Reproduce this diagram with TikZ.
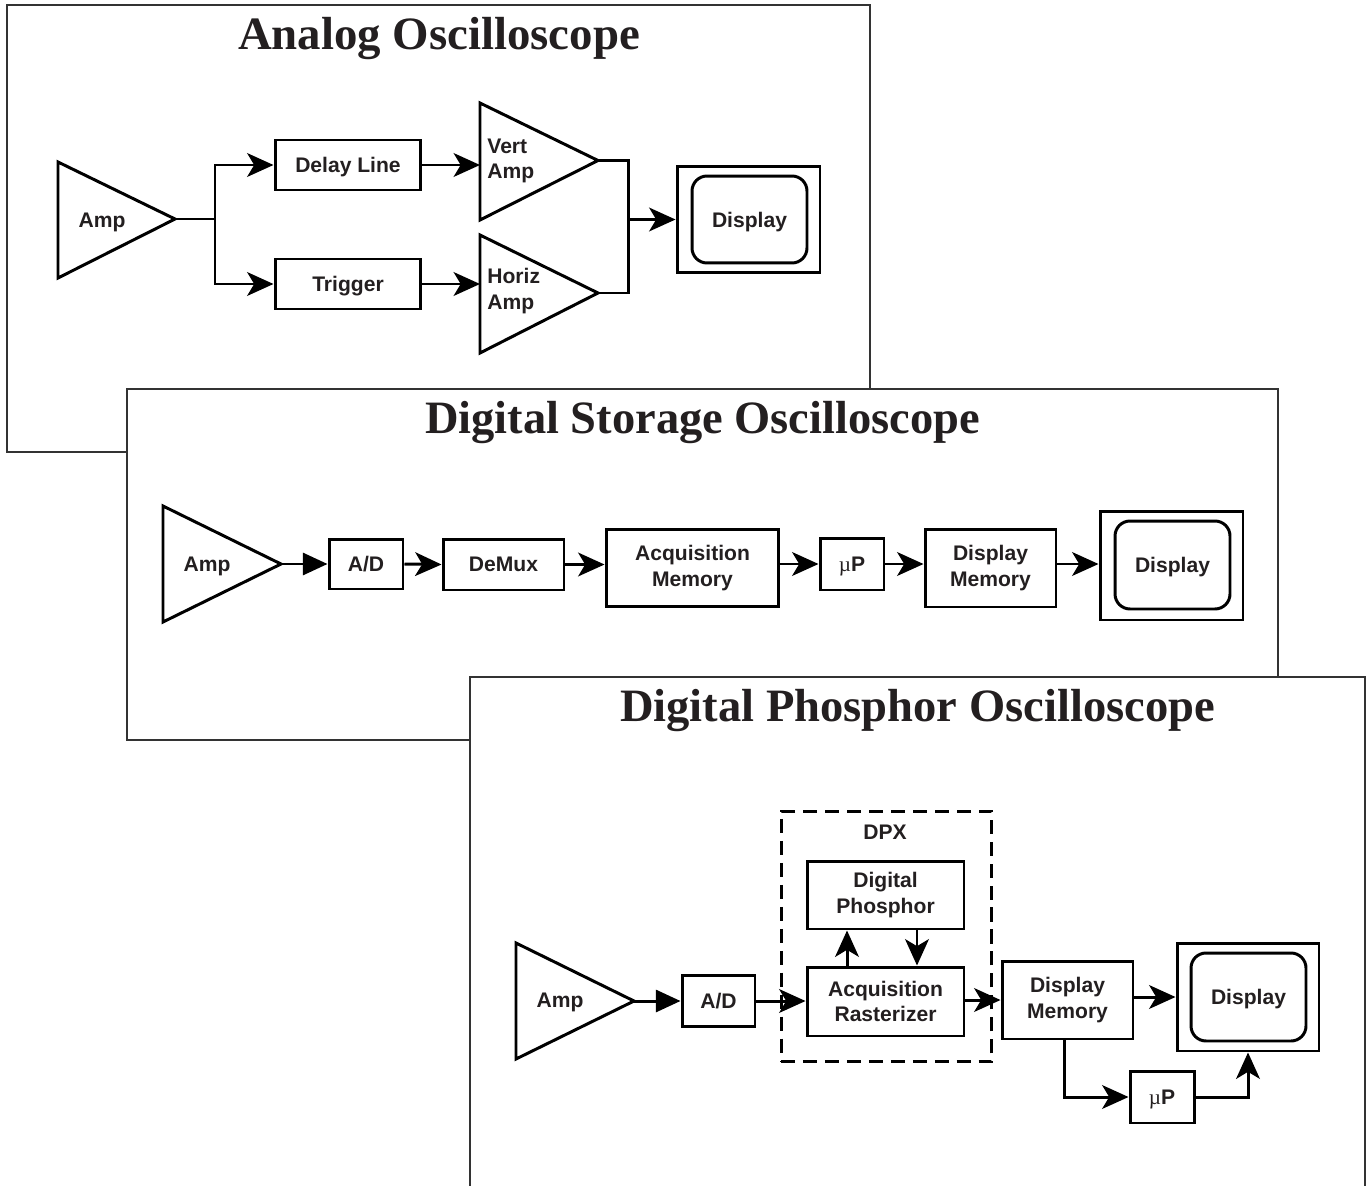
\documentclass[tikz,border=0pt]{standalone}
\usepackage{fontspec}
\setmainfont{Liberation Sans}
\newfontfamily\titlefont{Liberation Serif}
\newfontfamily\mufont{Liberation Serif}
\usepackage{graphicx}
\usetikzlibrary{arrows.meta}
\definecolor{ink}{HTML}{231F20}
\newcommand{\lblfont}{\fontsize{12}{14.7}\selectfont\bfseries}
\newcommand{\mup}{{\mufont\mdseries µ}P}
\begin{document}
\begin{tikzpicture}[x=0.02cm,y=-0.02cm,
  ln/.style={line width=1.7pt, draw=black},
  arr/.style={ln, -{Stealth[length=15pt,width=13.5pt,inset=4pt]}},
  tarr/.style={ln, -{Triangle[length=14pt,width=12.5pt]}},
  box/.style={draw=black, line width=1.7pt, inner sep=0pt, align=center, font=\lblfont, text=ink},
  lbl/.style={inner sep=0pt, align=center, font=\lblfont, text=ink},
  one/.style={text depth=0pt},
  rbox/.style={box, rounded corners=0.3cm},
  panel/.style={fill=white, draw=black!80, line width=0.7pt},
  ttl/.style={inner sep=0pt, anchor=base, text=ink, font=\fontsize{26.4}{28}\selectfont\titlefont\bfseries},
  dashbox/.style={draw=black, line width=1.7pt, dash pattern=on 8pt off 4.5pt, inner sep=0pt}
]
\useasboundingbox (0,0) rectangle (1366,1186);
\fill[white] (0,0) rectangle (1366,1186);

% ===== Panel 1: Analog =====
\filldraw[panel] (7,5) rectangle (870,452);
\node[ttl] (t1) at (439,50) {\resizebox{8.04cm}{\height}{Analog Oscilloscope}};

\draw[ln] (58,162) -- (175,219) -- (58,278) -- cycle;
\node[lbl, one] (amp1) at (102,220.5) {Amp};
\coordinate (a1tip) at (175,219);
\coordinate (split) at (215,219);

\node[box, one, minimum width=2.92cm, minimum height=1.0cm] (delay) at (348,165) {Delay Line};
\node[box, one, minimum width=2.92cm, minimum height=1.0cm] (trig) at (348,284) {Trigger};

\draw[ln] (480,103) -- (598,160.5) -- (480,220) -- cycle;
\draw[ln] (480,235) -- (598,293) -- (480,353) -- cycle;
\node[lbl, align=left, anchor=west] (vamp) at (487,161) {Vert\\Amp};
\node[lbl, align=left, anchor=west] (hamp) at (487,291) {Horiz\\Amp};
\coordinate (vin) at (480,165);
\coordinate (hin) at (480,284);
\coordinate (vtip) at (598,160.5);
\coordinate (htip) at (598,293);
\coordinate (join) at (628,219.5);

\node[box, minimum width=2.86cm, minimum height=2.14cm] (disp1) at (748.5,219.5) {};
\node[rbox, one, minimum width=2.3cm, minimum height=1.74cm] (disp1in) at (749.5,219.5) {Display};

\draw[ln] (a1tip) -- (split);
\draw[arr] (split) |- (delay.west);
\draw[arr] (split) |- (trig.west);
\draw[arr] (delay.east) -- (vin);
\draw[arr] (trig.east) -- (hin);
\draw[ln] (vtip) -| (join) |- (htip);
\draw[arr] (join) -- (disp1.west);

% ===== Panel 2: DSO =====
\filldraw[panel] (127,389) rectangle (1278,740);
\node[ttl] (t2) at (702.5,433) {\resizebox{11.1cm}{\height}{Digital Storage Oscilloscope}};

\draw[ln] (163,506) -- (281,564) -- (163,622) -- cycle;
\node[lbl, one] (amp2) at (207,564) {Amp};
\coordinate (a2tip) at (281,564);

\node[box, one, minimum width=1.48cm, minimum height=1.0cm] (ad2) at (366,564) {A/D};
\node[box, one, minimum width=2.42cm, minimum height=1.02cm] (demux) at (503.5,564.5) {DeMux};
\node[box, minimum width=3.46cm, minimum height=1.54cm] (acqmem) at (692.5,568) {Acquisition\\Memory};
\node[box, one, minimum width=1.28cm, minimum height=1.04cm] (up2) at (852,564) {\mup};
\node[box, minimum width=2.62cm, minimum height=1.56cm] (dispmem2) at (990.5,568) {Display\\Memory};
\node[box, minimum width=2.86cm, minimum height=2.18cm] (disp2) at (1171.5,565.5) {};
\node[rbox, one, minimum width=2.3cm, minimum height=1.76cm] (disp2in) at (1172.5,565) {Display};

\draw[tarr] (a2tip) -- (ad2.west);
\draw[arr] (ad2.east) -- (demux.west);
\draw[arr] (demux.east) -- (demux.east -| acqmem.west);
\draw[arr] (acqmem.east |- up2.west) -- (up2.west);
\draw[arr] (up2.east) -- (up2.east -| dispmem2.west);
\draw[arr] (dispmem2.east |- up2.east) -- (up2.east -| disp2.west);

% ===== Panel 3: DPO =====
\filldraw[panel] (470,1200) -- (470,677) -- (1365,677) -- (1365,1200);
\node[ttl] (t3) at (917.5,721) {\resizebox{11.9cm}{\height}{Digital Phosphor Oscilloscope}};

\draw[ln] (516,943) -- (634,1001) -- (516,1059) -- cycle;
\node[lbl, one] (amp3) at (560,1000.5) {Amp};
\coordinate (a3tip) at (634,1001);

\node[box, one, minimum width=1.46cm, minimum height=1.02cm] (ad3) at (718.5,1001) {A/D};
\node[dashbox, minimum width=4.22cm, minimum height=5.02cm] (dpx) at (886.5,936.5) {};
\node[lbl, one] (dpxlbl) at (885,832) {DPX};
\node[box, minimum width=3.14cm, minimum height=1.36cm] (dphos) at (885.5,895) {Digital\\Phosphor};
\node[box, minimum width=3.14cm, minimum height=1.38cm] (acqras) at (885.5,1001.5) {Acquisition\\Rasterizer};
\node[box, minimum width=2.62cm, minimum height=1.56cm] (dispmem3) at (1067.5,1000) {Display\\Memory};
\node[box, minimum width=2.84cm, minimum height=2.16cm] (disp3) at (1248,997) {};
\node[rbox, one, minimum width=2.3cm, minimum height=1.76cm] (disp3in) at (1248.5,997) {Display};
\node[box, one, minimum width=1.28cm, minimum height=1.04cm] (up3) at (1162,1097) {\mup};

\draw[tarr] (a3tip) -- (ad3.west);
\draw[arr] (ad3.east) -- (ad3.east -| acqras.west);
\draw[arr] ([xshift=-0.77cm]acqras.north) -- ([xshift=-0.77cm]dphos.south);
\draw[arr] ([xshift=0.63cm]dphos.south) -- ([xshift=0.63cm]acqras.north);
\draw[arr] (acqras.east |- dispmem3.west) -- (dispmem3.west);
\draw[arr] (dispmem3.east |- disp3.west) -- (disp3.west);
\draw[arr] ([xshift=-0.07cm]dispmem3.south) |- (up3.west);
\draw[arr] (up3.east) -| (disp3.south);
\end{tikzpicture}
\end{document}
